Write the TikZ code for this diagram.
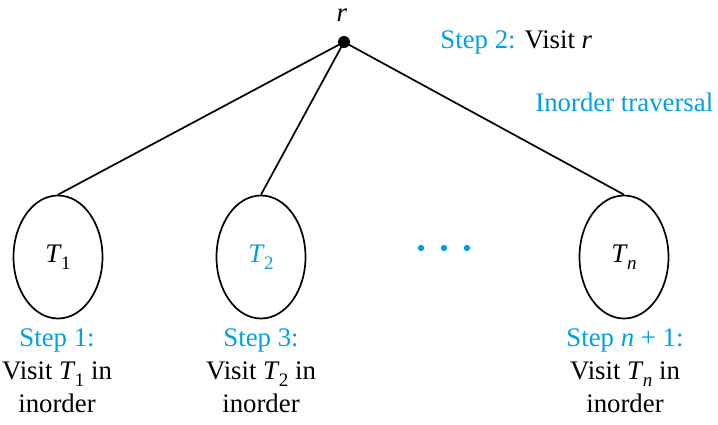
\documentclass[tikz,border=0pt]{standalone}
\usepackage{fontspec}
\setmainfont{Liberation Serif}
\usetikzlibrary{shapes.geometric}
\definecolor{stepblue}{RGB}{0,160,225}
\newcommand{\Tsub}[1]{\textit{T}\kern-0.03em\raisebox{-0.55ex}{\fontsize{9.5}{10}\selectfont #1}}

\begin{document}
\begin{tikzpicture}[x=0.5pt, y=-0.5pt, font=\rmfamily\fontsize{13.4}{16.5}\selectfont,
    subtree/.style={draw, ellipse, line width=0.85, minimum width=44.5pt, minimum height=61.5pt, inner sep=0},
    steptext/.style={align=center, inner sep=0}]
    \useasboundingbox (0,0) rectangle (718,424);
    % Raiz
    \node[circle, fill, minimum size=6pt, inner sep=0] (r) at (344,42) {};
    \node (rlabel) at (342,15) {\textit{r}};
    \node[anchor=west, inner sep=0] (visit) at (440,42) {\textcolor{stepblue}{Step 2:} Visit \textit{r}};
    \node[anchor=west, inner sep=0, stepblue] (title) at (535,102) {Inorder traversal};
    % Subarvores
    \node[subtree] (t1) at (58,257) {\Tsub{1}};
    \node[subtree, text=stepblue] (t2) at (261,257) {\Tsub{2}};
    \node[subtree] (tn) at (624,257) {\Tsub{\textit{n}}};
    \draw[line width=0.85] (r.center) -- (t1.north);
    \draw[line width=0.85] (r.center) -- (t2.north);
    \draw[line width=0.85] (r.center) -- (tn.north);
    % Reticencias
    \foreach \x in {421,444,467}
        \fill[stepblue] (\x,248) circle (1.6pt);
    % Passos
    \node[steptext] (s1) at (57,371) {\textcolor{stepblue}{Step 1:}\\Visit \Tsub{1} in\\inorder};
    \node[steptext] (s3) at (261,371) {\textcolor{stepblue}{Step 3:}\\Visit \Tsub{2} in\\inorder};
    \node[steptext] (sn) at (625,371) {\textcolor{stepblue}{Step \textit{n} + 1:}\\Visit \Tsub{\textit{n}} in\\inorder};
\end{tikzpicture}
\end{document}
